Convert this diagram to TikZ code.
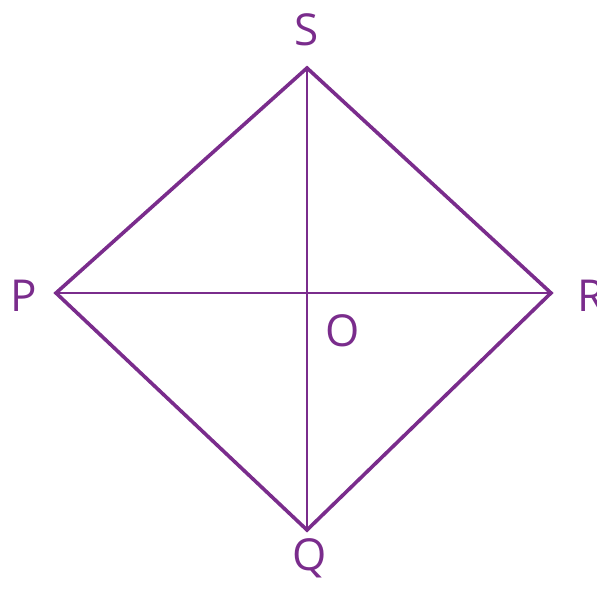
\documentclass[tikz,border=0pt]{standalone}
\usepackage{fontspec}
\setmainfont{Open Sans}
\definecolor{pur}{RGB}{122,44,140}
\begin{document}
\begin{tikzpicture}[x=1pt,y=1pt,
  side/.style={draw=pur,line width=3.6pt,line join=miter},
  diag/.style={draw=pur,line width=1.8pt},
  lbl/.style={text=pur,font=\fontsize{44}{44}\selectfont,inner sep=0pt}]
\useasboundingbox (0,0) rectangle (597,592);
\coordinate (S) at (307,524);
\coordinate (P) at (56,299);
\coordinate (R) at (551,299);
\coordinate (Q) at (307,62);
\coordinate (O) at (307,299);
\draw[side] (S) -- (R) -- (Q) -- (P) -- cycle;
\draw[diag] (S) -- (Q);
\draw[diag] (P) -- (R);
\node[lbl] (ls) at (307,562) {S};
\node[lbl] (lp) at (24,296) {P};
\node[lbl] (lr) at (591,296) {R};
\node[lbl] (lo) at (343,261) {O};
\node[lbl] (lq) at (310,34) {Q};
\end{tikzpicture}
\end{document}
